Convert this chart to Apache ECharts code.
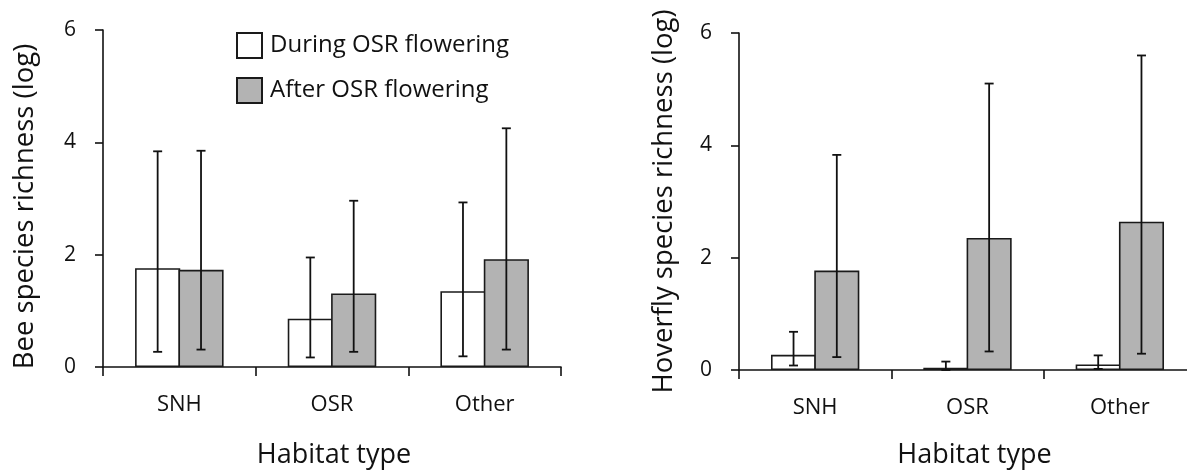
<!DOCTYPE html>
<html>
<head>
<meta charset="utf-8">
<script src="https://cdn.jsdelivr.net/npm/echarts@6/dist/echarts.min.js"></script>
<style>html,body{margin:0;padding:0;background:#fff}#c{width:1187px;height:470px}</style>
</head>
<body>
<div id="c"></div>
<script>
const categories = ['SNH', 'OSR', 'Other'];
const yTicks = [0, 2, 4, 6];
const seriesNames = ['During OSR flowering', 'After OSR flowering'];

const beeDuring = [1.76, 0.86, 1.35];
const beeDuringLow = [0.27, 0.17, 0.19];
const beeDuringHigh = [3.84, 1.95, 2.93];
const beeAfter = [1.73, 1.31, 1.92];
const beeAfterLow = [0.31, 0.27, 0.31];
const beeAfterHigh = [3.85, 2.96, 4.25];

const hovDuring = [0.27, 0.04, 0.10];
const hovDuringLow = [0.08, 0.00, 0.02];
const hovDuringHigh = [0.68, 0.15, 0.26];
const hovAfter = [1.77, 2.35, 2.64];
const hovAfterLow = [0.23, 0.33, 0.29];
const hovAfterHigh = [3.83, 5.10, 5.60];

const FONT = 'Open Sans';
const GAP = 0.42;      // category gap fraction
const BARGAP = -0.04;  // gap between the two bars, fraction of bar width
const INK = '#111';

function errData(lo, hi) { return lo.map((v, i) => [i, v, hi[i]]); }

function errRender(sign) {
  return function (params, api) {
    const xi = api.value(0);
    const lo = api.coord([xi, api.value(1)]);
    const hi = api.coord([xi, api.value(2)]);
    const band = api.size([1, 0])[0];
    const bw = band * (1 - GAP) / (2 + BARGAP);
    const x = lo[0] + sign * bw * (1 + BARGAP) / 2;
    const cap = 4.5;
    const st = { stroke: INK, lineWidth: 1.8 };
    return {
      type: 'group',
      children: [
        { type: 'line', shape: { x1: x, y1: lo[1], x2: x, y2: hi[1] }, style: st },
        { type: 'line', shape: { x1: x - cap, y1: hi[1], x2: x + cap, y2: hi[1] }, style: st },
        { type: 'line', shape: { x1: x - cap, y1: lo[1], x2: x + cap, y2: lo[1] }, style: st }
      ]
    };
  };
}

function xAx(gi, gap, pad) {
  return {
    type: 'category', gridIndex: gi, data: categories,
    name: 'Habitat type', nameLocation: 'middle', nameGap: gap,
    nameTextStyle: { fontFamily: FONT, fontSize: 27, color: INK, padding: pad },
    axisLine: { lineStyle: { color: INK, width: 1.6 } },
    axisTick: { show: true, length: 9, lineStyle: { color: INK, width: 1.6 } },
    axisLabel: { fontFamily: FONT, fontSize: 22, color: INK, margin: 27 },
    splitLine: { show: false }
  };
}
function yAx(gi, name, gap, pad) {
  return {
    type: 'value', gridIndex: gi, min: yTicks[0], max: yTicks[yTicks.length - 1], interval: 2,
    name: name, nameLocation: 'middle', nameGap: gap,
    nameTextStyle: { fontFamily: FONT, fontSize: 27.5, color: INK, padding: pad },
    axisLine: { show: true, lineStyle: { color: INK, width: 1.6 } },
    axisTick: { show: true, length: 8, lineStyle: { color: INK, width: 1.6 } },
    axisLabel: { fontFamily: FONT, fontSize: 21, color: INK, margin: 27 },
    splitLine: { show: false }
  };
}
function bar(name, data, gi, fill) {
  return {
    name: name, type: 'bar', xAxisIndex: gi, yAxisIndex: gi, data: data,
    barGap: (BARGAP * 100) + '%', barCategoryGap: (GAP * 100) + '%',
    itemStyle: { color: fill, borderColor: '#1a1a1a', borderWidth: 1.6 },
    emphasis: { disabled: true }, silent: true
  };
}
function err(lo, hi, gi, sign) {
  return {
    name: 'err', type: 'custom', xAxisIndex: gi, yAxisIndex: gi, z: 5,
    renderItem: errRender(sign), data: errData(lo, hi), silent: true
  };
}

const chart = echarts.init(document.getElementById('c'), null, { renderer: 'canvas' });
chart.setOption({
  animation: false,
  backgroundColor: '#fff',
  legend: {
    data: seriesNames, orient: 'vertical', left: 231, top: 27,
    itemWidth: 25, itemHeight: 25, itemGap: 18, icon: 'rect',
    textStyle: { fontFamily: FONT, fontSize: 24, color: INK, padding: [0, 0, 0, 3] },
    selectedMode: false
  },
  grid: [
    { left: 103, right: 626, top: 30, bottom: 103, containLabel: false, outerBoundsMode: 'none' },
    { left: 739, right: -9, top: 33, bottom: 100, containLabel: false, outerBoundsMode: 'none' }
  ],
  xAxis: [xAx(0, 75, [0, 0, 0, 4]), xAx(1, 72, [0, 0, 0, 14])],
  yAxis: [
    yAx(0, 'Bee species richness (log)', 64, [0, 16, 0, 0]),
    yAx(1, 'Hoverfly species richness (log)', 61, [0, 0, 0, 0])
  ],
  series: [
    bar(seriesNames[0], beeDuring, 0, '#ffffff'),
    bar(seriesNames[1], beeAfter, 0, '#b3b3b3'),
    err(beeDuringLow, beeDuringHigh, 0, -1),
    err(beeAfterLow, beeAfterHigh, 0, 1),
    bar(seriesNames[0], hovDuring, 1, '#ffffff'),
    bar(seriesNames[1], hovAfter, 1, '#b3b3b3'),
    err(hovDuringLow, hovDuringHigh, 1, -1),
    err(hovAfterLow, hovAfterHigh, 1, 1)
  ]
});
</script>
</body>
</html>
